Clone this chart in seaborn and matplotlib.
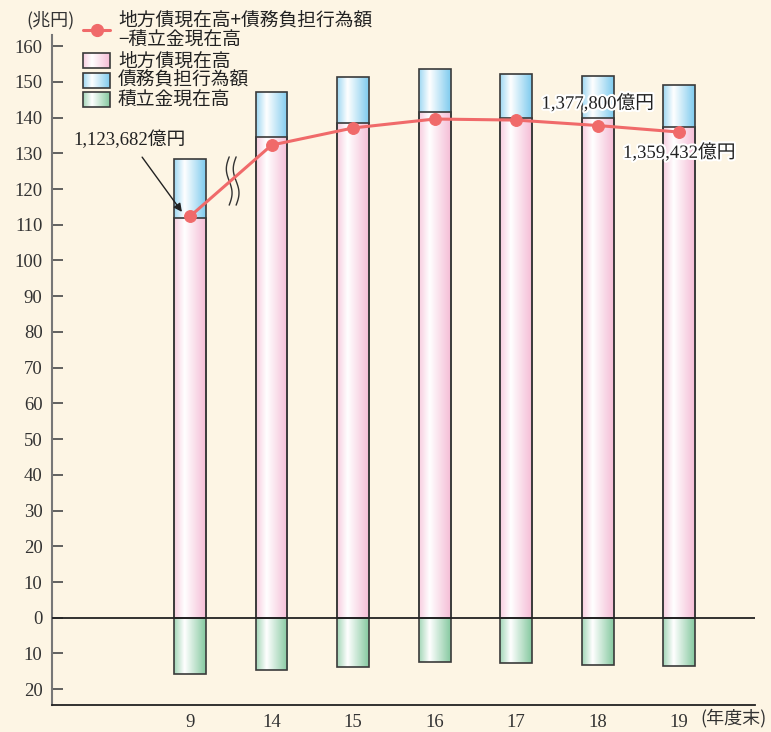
import numpy as np
import pandas as pd
import matplotlib
matplotlib.use("Agg")
import matplotlib.pyplot as plt
import matplotlib.patheffects as pe
from matplotlib.patches import Rectangle
from matplotlib.colors import to_rgb
import seaborn as sns

# ---- data (兆円) ----
years = ["9", "14", "15", "16", "17", "18", "19"]
chihousai = [111.8, 134.5, 138.4, 141.6, 140.0, 139.9, 137.5]      # 地方債現在高
saimu_futan = [16.6, 12.8, 13.0, 12.1, 12.2, 11.8, 11.7]           # 債務負担行為額
tsumitate = [15.7, 14.6, 13.7, 12.5, 12.7, 13.1, 13.4]             # 積立金現在高
net_total = [112.3682, 132.3, 137.1, 139.6, 139.3, 137.78, 135.9432]  # 地方債+債務負担-積立金
yticks = list(range(-20, 161, 10))

BG = "#FDF5E4"
PINK = "#F5BDD6"
BLUE = "#7FCBEE"
GREEN = "#86C9A0"
LINE = "#F06A6A"
EDGE = "#3A3A3A"

sns.set_theme(style="white")
plt.rcParams["font.family"] = ["Liberation Serif", "Noto Sans CJK JP"]
JP = ["Noto Sans CJK JP", "DejaVu Sans"]
NUM = ["Liberation Serif", "Noto Sans CJK JP"]

fig = plt.figure(figsize=(7.71, 7.32), dpi=100, facecolor=BG)
ax = fig.add_axes([52.3 / 771, 1 - 705.3 / 732, (755 - 52.3) / 771, (705.3 - 34.7) / 732])
ax.set_facecolor(BG)

df = pd.DataFrame({
    "year": years,
    "top": np.array(chihousai) + np.array(saimu_futan),
    "chihousai": chihousai,
    "tsumitate": -np.array(tsumitate),
})

bw = 0.39
sns.barplot(data=df, x="year", y="top", order=years, width=bw, color=BLUE,
            edgecolor=EDGE, linewidth=1.2, ax=ax, zorder=2)
n_blue = len(ax.patches)
sns.barplot(data=df, x="year", y="chihousai", order=years, width=bw, color=PINK,
            edgecolor=EDGE, linewidth=1.2, ax=ax, zorder=2)
n_pink = len(ax.patches)
sns.barplot(data=df, x="year", y="tsumitate", order=years, width=bw, color=GREEN,
            edgecolor=EDGE, linewidth=1.2, ax=ax, zorder=2)


def gradient_img(base, n=64):
    t = np.linspace(0, 1, n)
    c = 0.33
    w = np.where(t < c, (c - t) / c * 0.75, (t - c) / (1 - c))
    w = np.clip(w, 0, 1)[:, None]
    rgb = (1 - w) * np.ones(3) + w * np.array(to_rgb(base))
    return rgb[None, :, :]


def shade(patch, base):
    x0, y0 = patch.get_x(), patch.get_y()
    w, h = patch.get_width(), patch.get_height()
    im = ax.imshow(gradient_img(base), extent=(x0, x0 + w, min(y0, y0 + h), max(y0, y0 + h)),
                   aspect="auto", interpolation="bilinear", zorder=1.5)
    im.set_clip_path(patch)
    patch.set_facecolor("none")


for i, p in enumerate(ax.patches):
    base = BLUE if i < n_blue else (PINK if i < n_pink else GREEN)
    shade(p, base)

# net total line
xs = np.arange(len(years))
sns.lineplot(x=xs, y=net_total, ax=ax, color=LINE, lw=2.2, marker="o",
             markersize=8.5, markeredgecolor=LINE, zorder=5, legend=False)

# zero line
ax.axhline(0, color="#222222", lw=1.3, zorder=3)

ax.set_xlim(-1.69, 6.93)
ax.set_ylim(-24.5, 163.2)
ax.set_yticks(yticks)
ax.set_yticklabels([str(abs(v)) for v in yticks], fontsize=13.5, family=NUM, color="#333333")
ax.set_xticks(xs)
ax.set_xticklabels(years, fontsize=13.5, family=NUM, color="#333333")
ax.set_xlabel("")
ax.set_ylabel("")
ax.tick_params(axis="y", direction="in", length=8, width=1.3, color="#555555", pad=7, left=True)
ax.tick_params(axis="x", length=0, pad=6)
for s in ("top", "right"):
    ax.spines[s].set_visible(False)
ax.spines["left"].set_color("#777777")
ax.spines["left"].set_linewidth(1.5)
ax.spines["bottom"].set_color("#222222")
ax.spines["bottom"].set_linewidth(1.3)

# break mark between 9 and 14
yy = np.linspace(115.5, 129, 60)
for xc in (0.48, 0.565):
    ax.plot(xc + 0.035 * np.sin(2 * np.pi * (yy - yy[0]) / (yy[-1] - yy[0])), yy,
            color="#333333", lw=1.0, zorder=4)

# value labels
halo = [pe.withStroke(linewidth=3, foreground="white")]
ax.annotate("1,123,682億円", xy=(-0.1, 113.6), xytext=(-0.74, 133.7),
            fontsize=13.5, family=NUM, color="#222222", ha="center", va="center",
            arrowprops=dict(arrowstyle="-|>", color="#222222", lw=1.0,
                            shrinkA=4, shrinkB=0, mutation_scale=12), zorder=6)
ax.text(5.0, 144.0, "1,377,800億円", fontsize=13.5, family=NUM, color="#222222",
        ha="center", va="center", path_effects=halo, zorder=6)
ax.text(6.0, 130.2, "1,359,432億円", fontsize=13.5, family=NUM, color="#222222",
        ha="center", va="center", path_effects=halo, zorder=6)

# legend and axis captions in pixel space
lax = fig.add_axes([0, 0, 1, 1], zorder=10)
lax.set_xlim(0, 771)
lax.set_ylim(732, 0)
lax.axis("off")
lax.patch.set_alpha(0)

lax.text(50, 20, "(兆円)", fontsize=13, family=JP, color="#333333", ha="center", va="center")
lax.text(767, 718, "(年度末)", fontsize=13, family=JP, color="#333333", ha="right", va="center")

lax.plot([83, 110], [29.5, 29.5], color=LINE, lw=2.2)
lax.plot([96.5], [29.5], "o", color=LINE, markersize=8.5)
lax.text(118, 20, "地方債現在高+債務負担行為額", fontsize=13.5, family=JP, color="#222222", va="center")
lax.text(118, 40, "−積立金現在高", fontsize=13.5, family=JP, color="#222222", va="center")

legend_items = [("地方債現在高", PINK, 60.8), ("債務負担行為額", BLUE, 80.2), ("積立金現在高", GREEN, 99.8)]
for label, col, yc in legend_items:
    r = Rectangle((83, yc - 7.5), 27, 15, facecolor="none", edgecolor=EDGE, lw=1.2, zorder=3)
    lax.add_patch(r)
    im = lax.imshow(gradient_img(col), extent=(83, 110, yc + 7.5, yc - 7.5), aspect="auto",
                    interpolation="bilinear", zorder=2)
    im.set_clip_path(r)
    lax.text(118, yc, label, fontsize=13.5, family=JP, color="#222222", va="center")
lax.set_xlim(0, 771)
lax.set_ylim(732, 0)

fig.savefig("out.png", dpi=100, facecolor=BG)
